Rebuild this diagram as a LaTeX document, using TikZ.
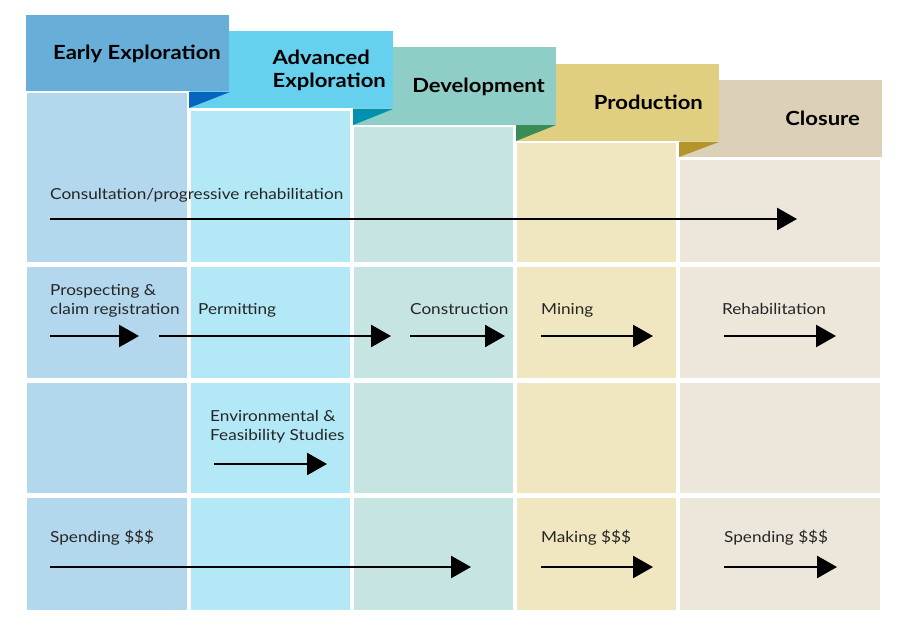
\documentclass[tikz,border=0pt]{standalone}
\usepackage{fontspec}
\setmainfont{Lato}[FakeStretch=1.13]
\usetikzlibrary{arrows.meta}
\definecolor{hA}{HTML}{67AED8}\definecolor{fA}{HTML}{0565BF}
\definecolor{hB}{HTML}{66D1EF}\definecolor{fB}{HTML}{0090B2}
\definecolor{hC}{HTML}{8FCDC7}\definecolor{fC}{HTML}{3A8C56}
\definecolor{hD}{HTML}{E0CF80}\definecolor{fD}{HTML}{B3952A}
\definecolor{hE}{HTML}{DCD1B8}
\definecolor{cA}{HTML}{B3D7ED}\definecolor{cB}{HTML}{B3E8F6}
\definecolor{cC}{HTML}{C6E4E2}\definecolor{cD}{HTML}{F0E6C0}
\definecolor{cE}{HTML}{EDE6DB}
\tikzset{
  lbl/.style={anchor=base west,inner sep=0pt,font=\fontsize{15.2}{19}\selectfont,text=black!85},
  hdr/.style={anchor=base east,inner sep=0pt,font=\fontsize{19.5}{24}\selectfont\bfseries,align=right,text=black},
  flow/.style={line width=2.6pt,-{Triangle[length=20pt,width=22pt]}}
}
\begin{document}
\begin{tikzpicture}[x=1pt,y=-1pt]
\useasboundingbox (0,0) rectangle (900,629);
% headers (back to front)
\fill[hE] (680,80) rectangle (882,157);
\fill[hD] (516,64) rectangle (719,141);
\fill[fD] (679,142) -- (719,142) -- (679,157) -- cycle;
\fill[hC] (353,47) rectangle (556,125);
\fill[fC] (516,125) -- (556,125) -- (516,141) -- cycle;
\fill[hB] (190,31) rectangle (393,108);
\fill[fB] (353,109) -- (393,109) -- (353,125) -- cycle;
\fill[hA] (26,15) rectangle (229,91);
\fill[fA] (189,92) -- (230,92) -- (189,108) -- cycle;
% cells
\foreach \xa/\xb/\top/\c in {27/187/93/cA,191/350/111/cB,354/513/127/cC,517/676/143/cD,680/880/160/cE}{
  \fill[\c] (\xa,\top) rectangle (\xb,262);
  \fill[\c] (\xa,267) rectangle (\xb,378);
  \fill[\c] (\xa,383) rectangle (\xb,493);
  \fill[\c] (\xa,498) rectangle (\xb,610);
}
% header titles
\node[hdr] (tA) at (221,59) {Early Exploration};
\node[hdr,align=left] (tB) at (386,87) {Advanced\\[-1pt]Exploration};
\node[hdr] (tC) at (545,92) {Development};
\node[hdr] (tD) at (703,109) {Production};
\node[hdr] (tE) at (860,125) {Closure};
% row 1
\node[lbl] (consult) at (50,199) {Consultation/progressive rehabilitation};
\coordinate (a1s) at (50,219); \coordinate (a1e) at (797,219);
\draw[flow] (a1s) -- (a1e);
% row 2
\node[lbl,align=left] (prosp) at (50,314) {Prospecting \&\\[-0.5pt]claim registration};
\node[lbl] (permit) at (198,314) {Permitting};
\node[lbl] (constr) at (410,314) {Construction};
\node[lbl] (mining) at (541,314) {Mining};
\node[lbl] (rehab) at (722,314) {Rehabilitation};
\coordinate (b1s) at (50,336); \coordinate (b1e) at (139,336);
\coordinate (b2s) at (159,336); \coordinate (b2e) at (391,336);
\coordinate (b3s) at (410,336); \coordinate (b3e) at (505,336);
\coordinate (b4s) at (541,336); \coordinate (b4e) at (653,336);
\coordinate (b5s) at (724,336); \coordinate (b5e) at (836,336);
\draw[flow] (b1s) -- (b1e);
\draw[flow] (b2s) -- (b2e);
\draw[flow] (b3s) -- (b3e);
\draw[flow] (b4s) -- (b4e);
\draw[flow] (b5s) -- (b5e);
% row 3
\node[lbl,align=left] (env) at (210,440) {Environmental \&\\[-0.5pt]Feasibility Studies};
\coordinate (c1s) at (214,464); \coordinate (c1e) at (327,464);
\draw[flow] (c1s) -- (c1e);
% row 4
\node[lbl] (spend1) at (50,542) {Spending \$\$\$};
\node[lbl] (making) at (541,542) {Making \$\$\$};
\node[lbl] (spend2) at (724,542) {Spending \$\$\$};
\coordinate (d1s) at (50,567); \coordinate (d1e) at (471,567);
\coordinate (d2s) at (541,567); \coordinate (d2e) at (653,567);
\coordinate (d3s) at (724,567); \coordinate (d3e) at (837,567);
\draw[flow] (d1s) -- (d1e);
\draw[flow] (d2s) -- (d2e);
\draw[flow] (d3s) -- (d3e);
\end{tikzpicture}
\end{document}
